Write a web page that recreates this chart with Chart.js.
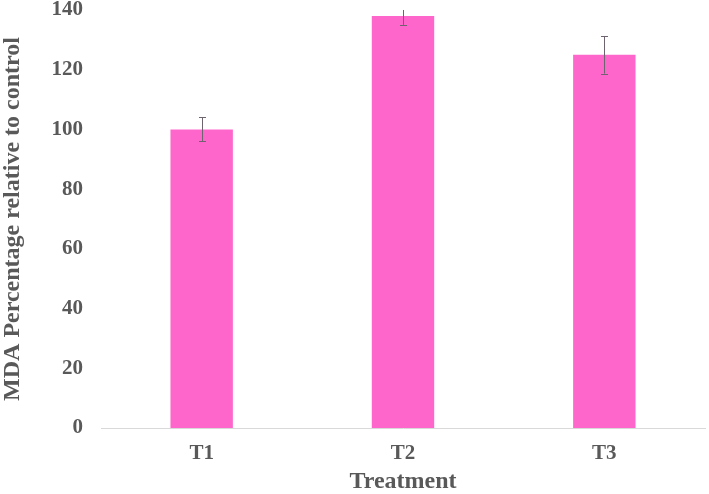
<!DOCTYPE html>
<html>
<head>
<meta charset="utf-8">
<script src="https://cdn.jsdelivr.net/npm/chart.js@4"></script>
<style>
  html, body { margin: 0; padding: 0; background: #fff; }
  #wrap { width: 709px; height: 494px; }
</style>
</head>
<body>
<div id="wrap"><canvas id="mdaChart" width="709" height="494"></canvas></div>
<script>
const treatments = ["T1", "T2", "T3"];
const mdaValues = [100, 138, 125];
const mdaErrors = [4, 3, 6.3];
const yTicks = [0, 20, 40, 60, 80, 100, 120, 140];

const textGrey = "#595959";

// whiskers drawn through the y scale, clipped to the plot area
const errorBars = {
  id: "errorBars",
  afterDatasetsDraw(chart) {
    const { ctx, chartArea } = chart;
    const y = chart.scales.y;
    const meta = chart.getDatasetMeta(0);
    ctx.save();
    ctx.beginPath();
    ctx.rect(chartArea.left, chartArea.top, chartArea.right - chartArea.left, chartArea.bottom - chartArea.top);
    ctx.clip();
    ctx.strokeStyle = "#6e6470";
    ctx.lineWidth = 1;
    meta.data.forEach((bar, i) => {
      const x = Math.round(bar.x) + 0.5;
      const top = y.getPixelForValue(mdaValues[i] + mdaErrors[i]);
      const bottom = y.getPixelForValue(mdaValues[i] - mdaErrors[i]);
      ctx.beginPath();
      ctx.moveTo(x, top);
      ctx.lineTo(x, bottom);
      ctx.moveTo(x - 3.5, Math.round(top) + 0.5);
      ctx.lineTo(x + 3.5, Math.round(top) + 0.5);
      ctx.moveTo(x - 3.5, Math.round(bottom) + 0.5);
      ctx.lineTo(x + 3.5, Math.round(bottom) + 0.5);
      ctx.stroke();
    });
    ctx.restore();
  }
};

new Chart(document.getElementById("mdaChart"), {
  type: "bar",
  data: {
    labels: treatments,
    datasets: [{
      data: mdaValues,
      backgroundColor: "#FF66CC",
      borderWidth: 0,
      categoryPercentage: 0.31,
      barPercentage: 1
    }]
  },
  options: {
    responsive: false,
    animation: false,
    layout: { padding: { top: 10, right: 4, bottom: 0, left: 0 } },
    plugins: {
      legend: { display: false },
      tooltip: { enabled: false }
    },
    scales: {
      x: {
        grid: { display: false, drawTicks: false },
        border: { display: true, color: "#d9d9d9", width: 1 },
        ticks: {
          color: textGrey,
          padding: 13,
          font: { family: "'Liberation Serif', 'Times New Roman', serif", size: 21, weight: "bold" }
        },
        title: {
          display: true,
          text: "Treatment",
          color: textGrey,
          padding: { top: 0, bottom: -2 },
          font: { family: "'Liberation Serif', 'Times New Roman', serif", size: 24, weight: "bold", lineHeight: 1.2 }
        },
        afterFit(s) { s.height = 66; s.paddingLeft = 0; s.paddingRight = 0; }
      },
      y: {
        min: 0,
        max: 140,
        afterBuildTicks(s) { s.ticks = yTicks.map(v => ({ value: v })); },
        grid: { display: false, drawTicks: false },
        border: { display: false },
        ticks: {
          color: textGrey,
          padding: 18,
          font: { family: "'Liberation Serif', 'Times New Roman', serif", size: 21, weight: "bold" }
        },
        title: {
          display: true,
          text: "MDA Percentage relative to control",
          color: textGrey,
          padding: { top: 0, bottom: 0 },
          font: { family: "'Liberation Serif', 'Times New Roman', serif", size: 24, weight: "bold", lineHeight: 1.05 }
        },
        afterFit(s) { s.width = 101; s.paddingTop = 0; s.paddingBottom = 0; }
      }
    }
  },
  plugins: [errorBars]
});
</script>
</body>
</html>
